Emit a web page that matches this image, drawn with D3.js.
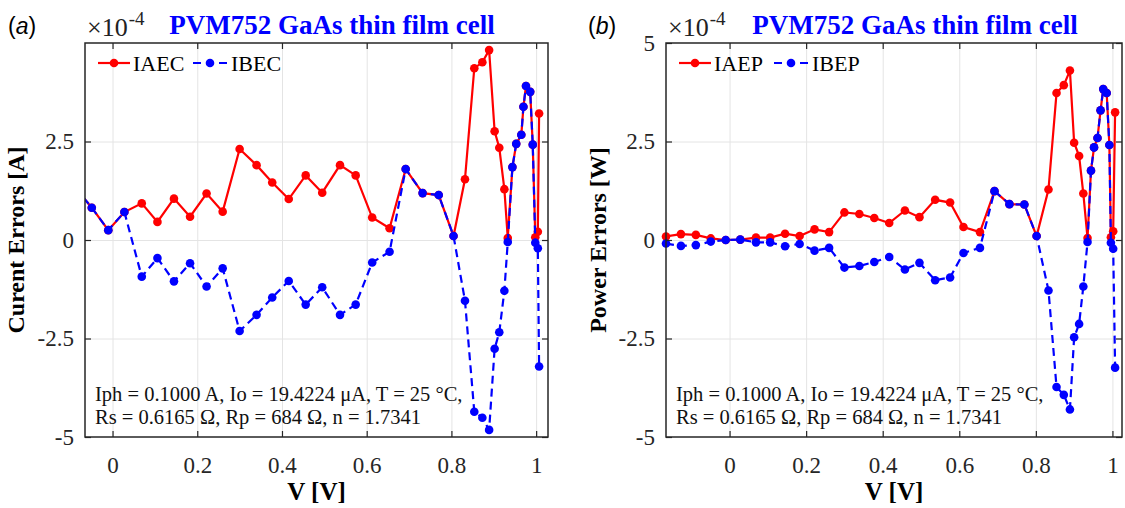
<!DOCTYPE html>
<html>
<head>
<meta charset="utf-8">
<script src="https://cdn.jsdelivr.net/npm/d3@7"></script>
<style>
  body { margin: 0; background: #ffffff; }
  svg text { font-family: "Liberation Serif", "Times New Roman", serif; }
</style>
</head>
<body>
<svg id="svg" width="1125" height="508"></svg>
<script>
// panel (a): current errors, x1e-4 A
const voltsA = [-0.088, -0.049, -0.010, 0.028, 0.069, 0.106, 0.145, 0.183, 0.222, 0.260,
  0.300, 0.340, 0.377, 0.416, 0.456, 0.495, 0.537, 0.574, 0.613, 0.654,
  0.692, 0.732, 0.770, 0.805, 0.832, 0.854, 0.873, 0.889, 0.902, 0.913,
  0.925, 0.933, 0.944, 0.953, 0.965, 0.970, 0.976, 0.986, 0.992, 0.998,
  1.004, 1.007]
const IAEC = [1.33, 0.82, 0.25, 0.71, 0.93, 0.46, 1.05, 0.59, 1.18, 0.72,
  2.31, 1.90, 1.46, 1.04, 1.64, 1.20, 1.90, 1.64, 0.57, 0.30,
  1.80, 1.19, 1.14, 0.10, 1.54, 4.36, 4.51, 4.82, 2.76, 2.34,
  1.29, 0.05, 1.85, 2.44, 2.67, 3.38, 3.91, 3.76, 2.42, 0.07,
  0.21, 3.21]
const IBEC = [1.33, 0.82, 0.25, 0.71, -0.93, -0.46, -1.05, -0.59, -1.18, -0.72,
  -2.31, -1.90, -1.46, -1.04, -1.64, -1.20, -1.90, -1.64, -0.57, -0.30,
  1.80, 1.19, 1.14, 0.10, -1.54, -4.36, -4.51, -4.82, -2.76, -2.34,
  -1.29, -0.05, 1.85, 2.44, 2.67, 3.38, 3.91, 3.76, 2.42, -0.07,
  -0.21, -3.21]

// panel (b): power errors, x1e-4 W
const voltsB = [-0.166, -0.127, -0.088, -0.049, -0.010, 0.028, 0.069, 0.106, 0.145, 0.183,
  0.222, 0.260, 0.300, 0.339, 0.378, 0.417, 0.458, 0.496, 0.537, 0.576,
  0.611, 0.654, 0.692, 0.731, 0.770, 0.802, 0.833, 0.854, 0.873, 0.889,
  0.900, 0.913, 0.924, 0.935, 0.944, 0.952, 0.961, 0.969, 0.976, 0.985,
  0.992, 0.996, 1.002, 1.007]
const IAEP = [0.09, 0.15, 0.13, 0.04, 0.00, 0.01, 0.06, 0.06, 0.16, 0.10,
  0.27, 0.20, 0.70, 0.66, 0.56, 0.43, 0.75, 0.58, 1.02, 0.95,
  0.33, 0.20, 1.24, 0.91, 0.90, 0.10, 1.28, 3.73, 3.93, 4.30,
  2.47, 2.13, 1.18, 0.05, 1.76, 2.35, 2.59, 3.29, 3.83, 3.73,
  2.41, 0.07, 0.22, 3.24]
const IBEP = [-0.09, -0.15, -0.13, -0.04, 0.00, 0.01, -0.06, -0.06, -0.16, -0.10,
  -0.27, -0.20, -0.70, -0.66, -0.56, -0.43, -0.75, -0.58, -1.02, -0.95,
  -0.33, -0.20, 1.24, 0.91, 0.90, 0.10, -1.28, -3.73, -3.93, -4.30,
  -2.47, -2.13, -1.18, -0.05, 1.76, 2.35, 2.59, 3.29, 3.83, 3.73,
  2.41, -0.07, -0.22, -3.24]

const xTicks = [0, 0.2, 0.4, 0.6, 0.8, 1]
const yTicksA = [-5, -2.5, 0, 2.5]
const yTicksB = [-5, -2.5, 0, 2.5, 5]
const titleText = 'PVM752 GaAs thin film cell'
const noteLines = ['Iph = 0.1000 A, Io = 19.4224 μA, T = 25 °C,',
  'Rs = 0.6165 Ω, Rp = 684 Ω, n = 1.7341']

const svg = d3.select('#svg')
const defs = svg.append('defs')
const plotTop = 43
const plotBottom = 437
const red = '#ff0000'
const blue = '#0000ff'
const axisColor = '#262626'

function drawPanel (p) {
  const x = d3.scaleLinear().domain(p.xDomain).range([p.left, p.right])
  const y = d3.scaleLinear().domain([-5, 5]).range([plotBottom, plotTop])
  const g = svg.append('g')

  defs.append('clipPath').attr('id', 'clip' + p.id)
    .append('rect')
    .attr('x', p.left).attr('y', plotTop)
    .attr('width', p.right - p.left).attr('height', plotBottom - plotTop)

  // grid
  g.append('g')
    .attr('transform', 'translate(0,' + plotBottom + ')')
    .call(d3.axisBottom(x).tickValues(xTicks).tickSize(-(plotBottom - plotTop)).tickFormat(''))
    .call(s => s.select('.domain').remove())
    .selectAll('line').attr('stroke', '#e4e4e4')
  g.append('g')
    .attr('transform', 'translate(' + p.left + ',0)')
    .call(d3.axisLeft(y).tickValues([-2.5, 0, 2.5]).tickSize(-(p.right - p.left)).tickFormat(''))
    .call(s => s.select('.domain').remove())
    .selectAll('line').attr('stroke', '#e4e4e4')

  // series
  const absData = p.volts.map((v, i) => ({ v: v, e: p.abs[i] }))
  const biasData = p.volts.map((v, i) => ({ v: v, e: p.bias[i] }))
  const line = d3.line().x(d => x(d.v)).y(d => y(d.e))
  const inside = d => d.v >= p.xDomain[0] - 0.001 && d.v <= p.xDomain[1]

  const plot = g.append('g')
  plot.append('path').datum(absData)
    .attr('clip-path', 'url(#clip' + p.id + ')')
    .attr('d', line).attr('fill', 'none')
    .attr('stroke', red).attr('stroke-width', 2.2)
  plot.selectAll('circle.abs').data(absData.filter(inside)).enter()
    .append('circle').attr('class', 'abs')
    .attr('cx', d => x(d.v)).attr('cy', d => y(d.e))
    .attr('r', 4.3).attr('fill', red)
  plot.append('path').datum(biasData)
    .attr('clip-path', 'url(#clip' + p.id + ')')
    .attr('d', line).attr('fill', 'none')
    .attr('stroke', blue).attr('stroke-width', 2.2)
    .attr('stroke-dasharray', '8,5')
  plot.selectAll('circle.bias').data(biasData.filter(inside)).enter()
    .append('circle').attr('class', 'bias')
    .attr('cx', d => x(d.v)).attr('cy', d => y(d.e))
    .attr('r', 4.3).attr('fill', blue)

  // axes
  const xAxis = g.append('g')
    .attr('transform', 'translate(0,' + plotBottom + ')')
    .call(d3.axisBottom(x).tickValues(xTicks).tickSize(-6).tickPadding(20).tickFormat(d => String(d)))
  const yAxis = g.append('g')
    .attr('transform', 'translate(' + p.left + ',0)')
    .call(d3.axisLeft(y).tickValues(p.yTicks).tickSize(-6).tickPadding(11).tickFormat(d => String(d)))
  const topAxis = g.append('g')
    .attr('transform', 'translate(0,' + plotTop + ')')
    .call(d3.axisTop(x).tickValues(xTicks).tickSize(-6).tickFormat(''))
  const rightAxis = g.append('g')
    .attr('transform', 'translate(' + p.right + ',0)')
    .call(d3.axisRight(y).tickValues(p.yTicks).tickSize(-6).tickFormat(''))
  ;[xAxis, yAxis, topAxis, rightAxis].forEach(a => {
    a.select('.domain').remove()
    a.attr('font-family', null).attr('font-size', 23)
    a.selectAll('line').attr('stroke', axisColor).attr('stroke-width', 1.2)
    a.selectAll('text').attr('fill', axisColor)
  })

  g.append('rect')
    .attr('x', p.left).attr('y', plotTop)
    .attr('width', p.right - p.left).attr('height', plotBottom - plotTop)
    .attr('fill', 'none').attr('stroke', axisColor).attr('stroke-width', 1.5)

  // legend
  const ly = 63
  g.append('line').attr('x1', p.left + 13).attr('x2', p.left + 45)
    .attr('y1', ly).attr('y2', ly).attr('stroke', red).attr('stroke-width', 2.2)
  g.append('circle').attr('cx', p.left + 29).attr('cy', ly).attr('r', 4.3).attr('fill', red)
  g.append('text').attr('x', p.left + 48).attr('y', ly + 8)
    .attr('font-size', 22).text(p.names[0])
  g.append('line').attr('x1', p.left + 108).attr('x2', p.left + 143)
    .attr('y1', ly).attr('y2', ly).attr('stroke', blue).attr('stroke-width', 2.2)
    .attr('stroke-dasharray', '8,5')
  g.append('circle').attr('cx', p.left + 125).attr('cy', ly).attr('r', 4.3).attr('fill', blue)
  g.append('text').attr('x', p.left + 146).attr('y', ly + 8)
    .attr('font-size', 22).text(p.names[1])

  // parameters note
  g.selectAll('text.note').data(noteLines).enter()
    .append('text').attr('class', 'note')
    .attr('x', p.left + 10).attr('y', (d, i) => 401 + i * 23)
    .attr('font-size', 20.5).attr('fill', '#111')
    .text(d => d)

  // labels
  g.append('text')
    .attr('transform', 'translate(' + p.ylabelX + ',' + ((plotTop + plotBottom) / 2) + ') rotate(-90)')
    .attr('text-anchor', 'middle').attr('font-size', 24).attr('font-weight', 'bold')
    .text(p.yLabel)
  g.append('text')
    .attr('x', (p.left + p.right) / 2).attr('y', 500)
    .attr('text-anchor', 'middle').attr('font-size', 25).attr('font-weight', 'bold')
    .text('V [V]')
  g.append('text')
    .attr('x', p.titleX).attr('y', 34)
    .attr('text-anchor', 'middle').attr('font-size', 27).attr('font-weight', 'bold')
    .attr('fill', blue).text(titleText)

  const mult = g.append('text').attr('x', p.left + 2).attr('y', 36)
    .attr('fill', '#222')
  mult.append('tspan').attr('font-size', 26).text('×10')
  mult.append('tspan').attr('dy', -11).attr('dx', 1).attr('font-size', 19).text('-4')

  const tag = g.append('text').attr('x', p.tagX).attr('y', 34)
    .attr('font-size', 23).style('font-family', '"Liberation Sans", Arial, sans-serif')
  tag.append('tspan').text('(')
  tag.append('tspan').attr('font-style', 'italic').text(p.tag)
  tag.append('tspan').text(')')
}

drawPanel({
  id: 'a', left: 85, right: 548, xDomain: [-0.065, 1.028],
  volts: voltsA, abs: IAEC, bias: IBEC, names: ['IAEC', 'IBEC'],
  yTicks: yTicksA, yLabel: 'Curent Errors [A]', ylabelX: 24,
  titleX: 332, tag: 'a', tagX: 8
})
drawPanel({
  id: 'b', left: 666, right: 1122, xDomain: [-0.166, 1.025],
  volts: voltsB, abs: IAEP, bias: IBEP, names: ['IAEP', 'IBEP'],
  yTicks: yTicksB, yLabel: 'Power Errors [W]', ylabelX: 606,
  titleX: 915, tag: 'b', tagX: 588
})
</script>
</body>
</html>
